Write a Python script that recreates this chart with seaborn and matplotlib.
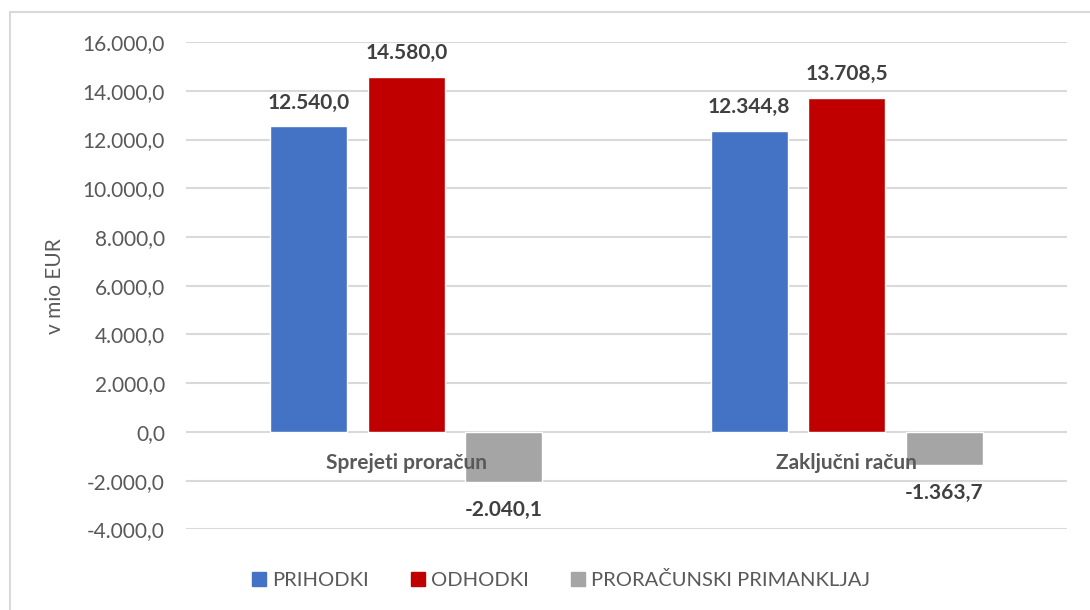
import matplotlib
matplotlib.use("Agg")
import matplotlib.pyplot as plt
import seaborn as sns
import pandas as pd
from matplotlib.patches import Rectangle
from matplotlib.lines import Line2D

categories = ["Sprejeti proračun", "Zaključni račun"]
series = ["PRIHODKI", "ODHODKI", "PRORAČUNSKI PRIMANKLJAJ"]
prihodki = [12540.0, 12344.8]
odhodki = [14580.0, 13708.5]
primanjkljaj = [-2040.1, -1363.7]
colors = ["#4472C4", "#C00000", "#A5A5A5"]
yticks = [-4000, -2000, 0, 2000, 4000, 6000, 8000, 10000, 12000, 14000, 16000]

rows = []
for name, vals in zip(series, [prihodki, odhodki, primanjkljaj]):
    for c, v in zip(categories, vals):
        rows.append({"kategorija": c, "serija": name, "vrednost": v})
df = pd.DataFrame(rows)

def fmt(v):
    s = f"{v:,.1f}"
    return s.replace(",", "X").replace(".", ",").replace("X", ".")

sns.set_theme(style="white")
plt.rcParams["font.family"] = ["Lato", "DejaVu Sans"]

fig = plt.figure(figsize=(10.9, 6.1), dpi=100)
ax = fig.add_axes([0.1706, 0.132, 0.979 - 0.1706, 0.9311 - 0.132])

sns.barplot(data=df, x="kategorija", y="vrednost", hue="serija",
            order=categories, hue_order=series, palette=colors,
            width=0.664, gap=0.21, saturation=1, errorbar=None,
            legend=False, ax=ax, zorder=3)

ax.set_ylim(-4000, 16000)
ax.set_xlim(-0.5, 1.5)
ax.set_yticks(yticks)
ax.set_yticklabels([fmt(t) for t in yticks], color="#595959", fontsize=15)
ax.tick_params(axis="y", length=0, pad=15)
ax.set_xticks([])
ax.set_xlabel("")
ax.set_ylabel("v mio EUR", color="#595959", fontsize=15)
ax.yaxis.set_label_coords((65 - 186) / 881, 0.5)
ax.grid(axis="y", color="#d9d9d9", linewidth=1.5, zorder=0)
ax.set_axisbelow(True)
for s in ax.spines.values():
    s.set_visible(False)

for cont in ax.containers:
    labels = [fmt(b.get_height()) for b in cont]
    pad = 13 if cont[0].get_height() < 0 else 10
    ax.bar_label(cont, labels=labels, padding=pad, fontsize=15,
                 fontweight="bold", color="#404040")

for i, c in enumerate(categories):
    ax.annotate(c, xy=(i, 0), xytext=(0, -22), textcoords="offset points",
                ha="center", va="center", fontsize=15, fontweight="bold",
                color="#595959", zorder=5)

handles = [Line2D([], [], marker="s", linestyle="none", markersize=9.5,
                  markerfacecolor=col, markeredgecolor=col) for col in colors]
fig.legend(handles, series, loc="center", bbox_to_anchor=(561 / 1090, 1 - 580 / 610),
           ncol=3, frameon=False, fontsize=14.5, handlelength=0.7,
           handletextpad=0.3, columnspacing=2.1, labelcolor="#595959")

fig.patches.append(Rectangle((10 / 1090, -0.1), 1.2, 1 - 12 / 610 + 0.1,
                             transform=fig.transFigure, fill=False,
                             edgecolor="#d9d9d9", linewidth=1.5))

fig.savefig("out.png", dpi=100, facecolor="white")
